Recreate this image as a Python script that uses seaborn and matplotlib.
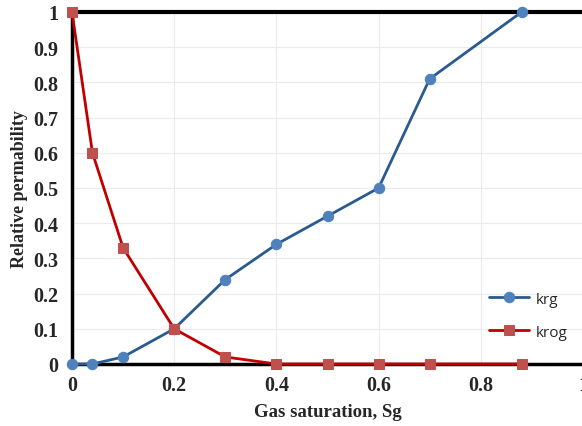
import matplotlib
matplotlib.use("Agg")
import matplotlib.pyplot as plt
import seaborn as sns
import pandas as pd

sg = [0, 0.04, 0.1, 0.2, 0.3, 0.4, 0.5, 0.6, 0.7, 0.88]
krg = [0, 0, 0.02, 0.1, 0.24, 0.34, 0.42, 0.5, 0.81, 1.0]
krog = [1.0, 0.6, 0.33, 0.1, 0.02, 0, 0, 0, 0, 0]
x_ticks = [0, 0.2, 0.4, 0.6, 0.8, 1]
y_ticks = [0, 0.1, 0.2, 0.3, 0.4, 0.5, 0.6, 0.7, 0.8, 0.9, 1]

sns.set_style("white")
plt.rcParams['font.family'] = ['Liberation Serif', 'DejaVu Serif']

df = pd.DataFrame({"sg": sg, "krg": krg, "krog": krog})

fig = plt.figure(figsize=(5.82, 4.27), dpi=100)
ax = fig.add_axes([72/582, 62/427, 511/582, 352/427])

sns.lineplot(data=df, x="sg", y="krg", ax=ax, color="#2B5A8E", lw=2,
             marker="o", markersize=7.5, markerfacecolor="#4F81BD",
             markeredgecolor="#4F81BD", label="krg", clip_on=False, zorder=5)
sns.lineplot(data=df, x="sg", y="krog", ax=ax, color="#C00000", lw=2,
             marker="s", markersize=7, markerfacecolor="#C0504D",
             markeredgecolor="#C0504D", label="krog", clip_on=False, zorder=6)

ax.set_xlim(0, 1)
ax.set_ylim(0, 1)
ax.set_xticks(x_ticks)
ax.set_yticks(y_ticks)
ax.set_xticklabels([f"{t:g}" for t in x_ticks])
ax.set_yticklabels([f"{t:g}" for t in y_ticks])
ax.grid(True, color="#EBEBEB", lw=0.8)
ax.set_axisbelow(True)

for s in ["top", "left", "bottom"]:
    ax.spines[s].set_visible(True)
    ax.spines[s].set_color("black")
ax.spines["top"].set_linewidth(3)
ax.spines["left"].set_linewidth(2.5)
ax.spines["bottom"].set_linewidth(2.5)
ax.spines["right"].set_visible(False)

ax.tick_params(axis="both", which="major", length=4, width=0.8, color="#888888",
               direction="out", labelsize=14.5, pad=6)
ax.tick_params(axis="x", pad=4)
for lab in ax.get_xticklabels() + ax.get_yticklabels():
    lab.set_fontweight("bold")

ax.set_xlabel("Gas saturation, Sg", fontsize=13.5, fontweight="bold", labelpad=6)
ax.set_ylabel("Relative permability", fontsize=13, fontweight="bold", labelpad=3.5)

leg = ax.legend(loc="upper left", bbox_to_anchor=(0.79, 0.245), frameon=False,
                prop={"family": "Open Sans", "size": 11}, handlelength=2.6,
                labelspacing=1.2, handletextpad=0.4)

fig.savefig("out.png", dpi=100)
